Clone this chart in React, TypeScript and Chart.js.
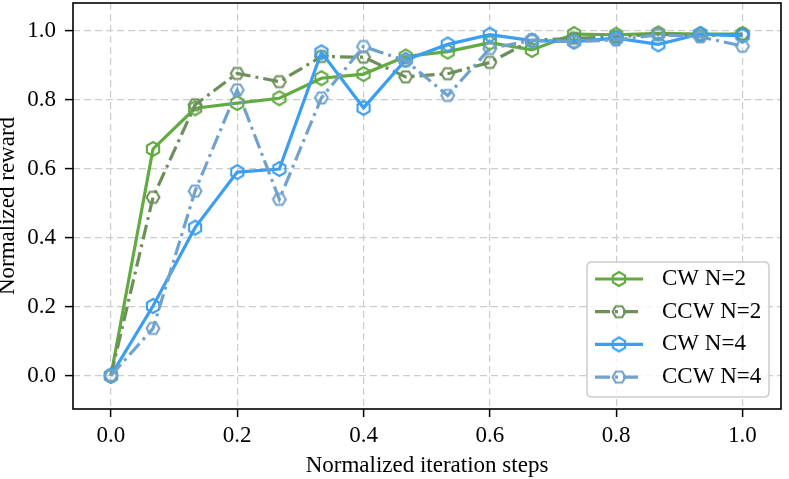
import React, { useEffect, useRef } from "react";
import { Chart, registerables } from "chart.js";

Chart.register(...registerables);

// ---- data ----
const steps = [0, 0.0667, 0.1333, 0.2, 0.2667, 0.3333, 0.4, 0.4667, 0.5333, 0.6, 0.6667, 0.7333, 0.8, 0.8667, 0.9333, 1.0];
const cwN2 = [0, 0.657, 0.775, 0.79, 0.804, 0.862, 0.874, 0.925, 0.939, 0.965, 0.944, 0.99, 0.988, 0.992, 0.99, 0.99];
const ccwN2 = [0, 0.517, 0.785, 0.876, 0.852, 0.925, 0.923, 0.866, 0.875, 0.908, 0.972, 0.978, 0.982, 0.99, 0.985, 0.99];
const cwN4 = [0, 0.202, 0.429, 0.59, 0.599, 0.937, 0.776, 0.915, 0.96, 0.988, 0.971, 0.968, 0.978, 0.96, 0.99, 0.985];
const ccwN4 = [0, 0.137, 0.535, 0.828, 0.511, 0.805, 0.954, 0.913, 0.812, 0.948, 0.972, 0.968, 0.973, 0.988, 0.982, 0.955];
const seriesNames = ["CW N=2", "CCW N=2", "CW N=4", "CCW N=4"];
const xTicks = [0, 0.2, 0.4, 0.6, 0.8, 1.0];
const yTicks = [0, 0.2, 0.4, 0.6, 0.8, 1.0];

const FONT = "'Liberation Serif', 'Times New Roman', serif";
const FS = 23;

const seriesStyles = [
  { color: "#62aa42", dash: [] as number[], hex: "h" },
  { color: "#6d905a", dash: [15, 5, 3, 5], hex: "H" },
  { color: "#3c9ef0", dash: [] as number[], hex: "h" },
  { color: "#70a2cd", dash: [15, 5, 3, 5], hex: "H" },
];

function makeHex(color: string, kind: string): HTMLCanvasElement {
  const c = document.createElement("canvas");
  c.width = 22;
  c.height = 22;
  const g = c.getContext("2d")!;
  const r = kind === "h" ? 7 : 6.4;
  const start = kind === "h" ? -Math.PI / 2 : 0;
  g.beginPath();
  for (let k = 0; k < 6; k++) {
    const a = start + (k * Math.PI) / 3;
    const px = 11 + r * Math.cos(a);
    const py = 11 + r * Math.sin(a);
    if (k === 0) g.moveTo(px, py);
    else g.lineTo(px, py);
  }
  g.closePath();
  g.lineWidth = 2.1;
  g.strokeStyle = color;
  g.stroke();
  return c;
}

export default function App() {
  const ref = useRef<HTMLCanvasElement | null>(null);

  useEffect(() => {
    document.body.style.margin = "0";
    const canvas = ref.current;
    if (!canvas) return;
    const seriesValues = [cwN2, ccwN2, cwN4, ccwN4];
    const markers = seriesStyles.map((s) => makeHex(s.color, s.hex));

    const frameAndLegend = {
      id: "frameAndLegend",
      afterDatasetsDraw(chart: any) {
        const { ctx, chartArea } = chart;
        ctx.save();
        ctx.strokeStyle = "#000";
        ctx.lineWidth = 1.6;
        ctx.setLineDash([]);
        ctx.strokeRect(chartArea.left, chartArea.top, chartArea.right - chartArea.left, chartArea.bottom - chartArea.top);

        // legend box
        const w = 182;
        const h = 135;
        const x0 = chartArea.right - 12 - w;
        const y0 = chartArea.bottom - 12 - h;
        const rad = 5;
        ctx.beginPath();
        ctx.moveTo(x0 + rad, y0);
        ctx.lineTo(x0 + w - rad, y0);
        ctx.quadraticCurveTo(x0 + w, y0, x0 + w, y0 + rad);
        ctx.lineTo(x0 + w, y0 + h - rad);
        ctx.quadraticCurveTo(x0 + w, y0 + h, x0 + w - rad, y0 + h);
        ctx.lineTo(x0 + rad, y0 + h);
        ctx.quadraticCurveTo(x0, y0 + h, x0, y0 + h - rad);
        ctx.lineTo(x0, y0 + rad);
        ctx.quadraticCurveTo(x0, y0, x0 + rad, y0);
        ctx.closePath();
        ctx.fillStyle = "rgba(255,255,255,0.8)";
        ctx.fill();
        ctx.strokeStyle = "#cccccc";
        ctx.lineWidth = 1.5;
        ctx.stroke();

        ctx.font = `${FS}px ${FONT}`;
        ctx.textBaseline = "middle";
        ctx.textAlign = "left";
        seriesNames.forEach((name, i) => {
          const st = seriesStyles[i];
          const cy = y0 + 17 + i * 32.7;
          const lx1 = x0 + 8;
          const lx2 = x0 + 56;
          ctx.beginPath();
          ctx.setLineDash(st.dash);
          ctx.strokeStyle = st.color;
          ctx.lineWidth = 3.2;
          ctx.moveTo(lx1, cy);
          ctx.lineTo(lx2, cy);
          ctx.stroke();
          ctx.setLineDash([]);
          const mk = markers[i];
          ctx.drawImage(mk, (lx1 + lx2) / 2 - mk.width / 2, cy - mk.height / 2);
          ctx.fillStyle = "#000";
          ctx.fillText(name, x0 + 75, cy);
        });
        ctx.restore();
      },
    };

    const chart = new Chart(canvas, {
      type: "line",
      data: {
        datasets: seriesNames.map((name, i) => ({
          label: name,
          data: steps.map((x, j) => ({ x, y: seriesValues[i][j] })),
          borderColor: seriesStyles[i].color,
          backgroundColor: "transparent",
          borderWidth: 3.2,
          borderDash: seriesStyles[i].dash,
          pointStyle: markers[i] as any,
          pointRadius: 7,
          pointHoverRadius: 7,
          tension: 0,
          fill: false,
          order: 3 - i,
        })),
      },
      options: {
        animation: false,
        responsive: false,
        layout: { autoPadding: false, padding: { top: 3, right: 8, left: 0, bottom: 0 } },
        plugins: {
          legend: { display: false },
          tooltip: { enabled: false },
        },
        scales: {
          x: {
            type: "linear",
            min: -0.06,
            max: 1.061,
            afterBuildTicks: (s: any) => {
              s.ticks = xTicks.map((v) => ({ value: v }));
            },
            afterFit: (s: any) => {
              s.height = 70;
              s.paddingLeft = 0;
              s.paddingRight = 0;
            },
            ticks: {
              callback: (v: any) => Number(v).toFixed(1),
              font: { family: FONT, size: FS, lineHeight: 1.2 },
              color: "#000",
              padding: 5,
              maxRotation: 0,
              autoSkip: false,
            },
            grid: {
              color: "#cccccc",
              lineWidth: 1.2,
              tickColor: "#000",
              tickWidth: 1.5,
              tickLength: 8,
              tickBorderDash: [],
              borderDash: [7, 4],
            } as any,
            border: { display: false, dash: [7, 4] },
            title: {
              display: true,
              text: "Normalized iteration steps",
              color: "#000",
              font: { family: FONT, size: FS, lineHeight: "27px" as any },
              padding: 0,
            },
          },
          y: {
            type: "linear",
            min: -0.0965,
            max: 1.08,
            afterBuildTicks: (s: any) => {
              s.ticks = yTicks.map((v) => ({ value: v }));
            },
            afterFit: (s: any) => {
              s.width = 73;
              s.paddingTop = 0;
              s.paddingBottom = 0;
            },
            ticks: {
              callback: (v: any) => Number(v).toFixed(1),
              font: { family: FONT, size: FS, lineHeight: 1.2 },
              color: "#000",
              padding: 9,
              autoSkip: false,
            },
            grid: {
              color: "#cccccc",
              lineWidth: 1.2,
              tickColor: "#000",
              tickWidth: 1.5,
              tickLength: 8,
              tickBorderDash: [],
              borderDash: [7, 4],
            } as any,
            border: { display: false, dash: [7, 4] },
            title: {
              display: true,
              text: "Normalized reward",
              color: "#000",
              font: { family: FONT, size: FS, lineHeight: "16px" as any },
              padding: 0,
            },
          },
        },
      },
      plugins: [frameAndLegend],
    });

    return () => {
      chart.destroy();
    };
  }, []);

  return (
    <div style={{ width: 789, height: 479, background: "#fff" }}>
      <canvas ref={ref} width={789} height={479} style={{ display: "block", width: 789, height: 479 }} />
    </div>
  );
}
